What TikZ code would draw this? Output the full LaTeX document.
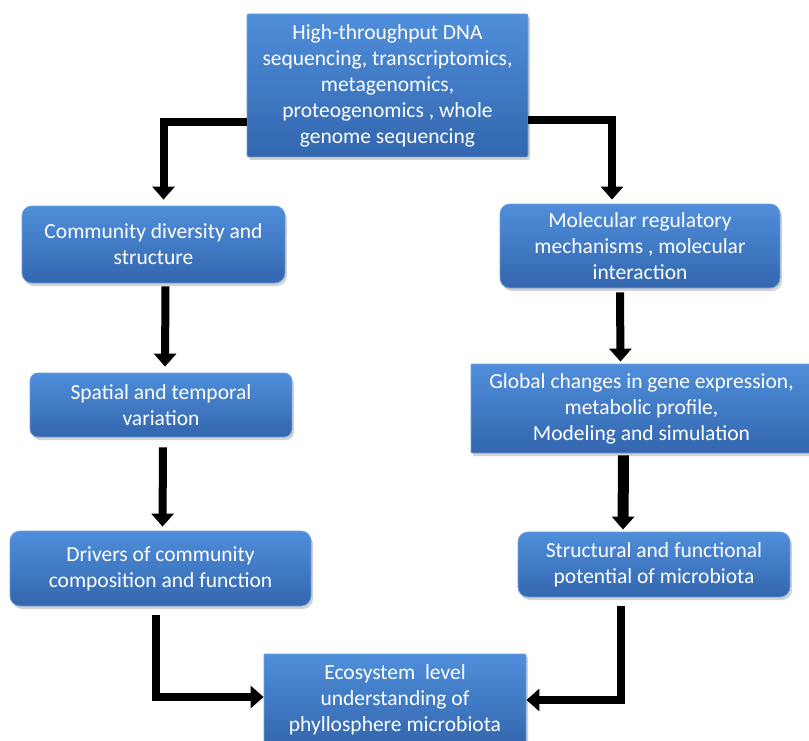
\documentclass[tikz,border=0pt]{standalone}
\usepackage{fontspec}
\setmainfont{Carlito}
\usetikzlibrary{arrows.meta,shadows}
\definecolor{boxtop}{HTML}{4F8EDB}
\definecolor{boxbot}{HTML}{3366AE}
\definecolor{boxline}{HTML}{6E9FDA}
\begin{document}
\begin{tikzpicture}[x=1pt,y=-1pt,>={Triangle[width=22pt,length=13pt]},
    main node/.style={draw=boxline,line width=0.8pt,top color=boxtop,bottom color=boxbot,text=white,align=center,
        font=\fontsize{21.5}{26}\selectfont,inner sep=2pt,drop shadow={shadow xshift=2pt,shadow yshift=-3pt,opacity=0.35}},
    link/.style={->,line width=8pt}]
    \useasboundingbox (0,0) rectangle (809,741);
    \node[main node,rounded corners=2pt,minimum width=281pt,minimum height=143pt] (top) at (387.5,85.5)
        {High-throughput DNA\\sequencing, transcriptomics,\\metagenomics,\\proteogenomics , whole\\genome sequencing};
    \node[main node,rounded corners=10pt,minimum width=263pt,minimum height=77pt] (comm) at (153.5,244.5)
        {Community diversity and\\structure};
    \node[main node,rounded corners=10pt,minimum width=280pt,minimum height=84pt] (mol) at (640,246)
        {Molecular regulatory\\mechanisms , molecular\\interaction};
    \node[main node,rounded corners=8pt,minimum width=262pt,minimum height=64pt] (spat) at (161,405)
        {Spatial and temporal\\variation};
    \node[main node,rounded corners=1pt,minimum width=341pt,minimum height=89pt] (glob) at (641.5,408.5)
        {Global changes in gene expression,\\metabolic profile,\\Modeling and simulation};
    \node[main node,rounded corners=10pt,minimum width=301pt,minimum height=75pt] (driv) at (160.5,568.5)
        {Drivers of community\\composition and function};
    \node[main node,rounded corners=10pt,minimum width=272pt,minimum height=65pt] (struc) at (654,564.5)
        {Structural and functional\\potential of microbiota};
    \node[main node,rounded corners=1pt,minimum width=262pt,minimum height=92pt] (eco) at (395,700)
        {Ecosystem~ level\\understanding of\\phyllosphere microbiota};

    % connectors
    \draw[link] ([yshift=-37pt]top.west) -| ([xshift=10pt,yshift=6pt]comm.north);
    \draw[link] ([yshift=-35pt]top.east) -| ([xshift=-28pt,yshift=4pt]mol.north);
    \draw[link] ([xshift=12pt,yshift=-3pt]comm.south) -- ([xshift=4pt,yshift=6pt]spat.north);
    \draw[link] ([xshift=2pt,yshift=-10pt]spat.south) -- ([xshift=2pt,yshift=4pt]driv.north);
    \draw[link] ([xshift=-20pt,yshift=-4pt]mol.south) -- ([xshift=-21pt,yshift=2pt]glob.north);
    \draw[link,line width=11pt] ([xshift=-18pt,yshift=-2pt]glob.south) -- ([xshift=-31pt,yshift=2pt]struc.north);
    \draw[link] ([xshift=-5pt,yshift=-9pt]driv.south) |- ([yshift=3pt]eco.west);
    \draw[link] ([xshift=-33pt,yshift=-9pt]struc.south) |- (eco.east);
\end{tikzpicture}
\end{document}
